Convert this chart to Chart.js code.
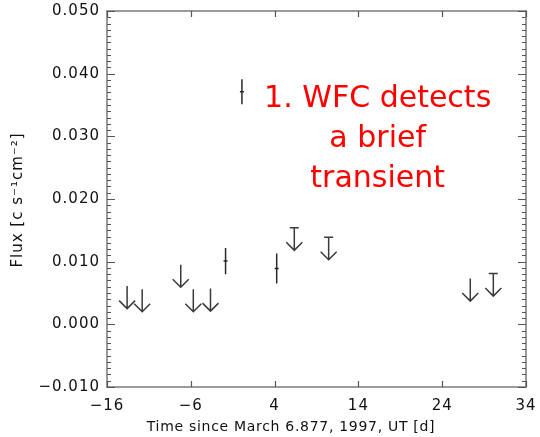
<!DOCTYPE html>
<html>
<head>
<meta charset="utf-8">
<script src="https://cdn.jsdelivr.net/npm/chart.js@4/dist/chart.umd.min.js"></script>
<style>
  html, body { margin: 0; padding: 0; background: #ffffff; }
  #wrap { width: 540px; height: 437px; position: relative; }
</style>
</head>
<body>
<div id="wrap"><canvas id="c" width="540" height="437"></canvas></div>
<script>
// ---- data ----
const xTickValues = [-16, -6, 4, 14, 24, 34];
const yTickValues = [-0.010, 0.000, 0.010, 0.020, 0.030, 0.040, 0.050];

// upper limits (top of the arrow), time [d] and flux
const limitTimes = [-13.6, -11.8, -7.2, -5.7, -3.65, 6.35, 10.45, 27.35, 30.1];
const limitFlux  = [0.0061, 0.0056, 0.0095, 0.0056, 0.0057, 0.0154, 0.0139, 0.0073, 0.0081];
const limitCapped = [false, false, false, false, false, true, true, false, true];

// detections with 1-sigma errors
const detTimes = [-1.85, 0.1, 4.25];
const detFlux  = [0.0101, 0.0371, 0.0089];
const detErr   = [0.0021, 0.0020, 0.0024];

const noteLines = ["1. WFC detects", "a brief", "transient"];
const noteAt = { x: 16.3, y: 0.0347 };

const xTitle = "Time since March 6.877, 1997, UT [d]";
const yTitle = "Flux [c s\u207B\u00B9cm\u207B\u00B2]";

const fmtMinus = s => s.replace('-', '\u2212');

const spacingPlugin = {
  id: 'spacing',
  beforeUpdate(chart) { chart.ctx.letterSpacing = '1px'; },
  beforeDraw(chart) { chart.ctx.letterSpacing = '1px'; }
};

const marksPlugin = {
  id: 'marks',
  afterDatasetsDraw(chart) {
    const ctx = chart.ctx;
    const xs = chart.scales.x, ys = chart.scales.y;
    const a = chart.chartArea;
    ctx.save();
    // frame
    ctx.strokeStyle = '#9a9a9a';
    ctx.lineWidth = 2;
    ctx.strokeRect(a.left, a.top, a.right - a.left, a.bottom - a.top);
    // y ticks, major and minor, both sides
    ctx.strokeStyle = '#555';
    ctx.lineWidth = 1.2;
    const yMin = yTickValues[0], yMax = yTickValues[yTickValues.length - 1];
    for (let k = 0; k <= Math.round((yMax - yMin) / 0.001); k++) {
      const v = yMin + k * 0.001;
      const py = Math.round(ys.getPixelForValue(v)) + 0.5;
      const major = (k % 10 === 0);
      const len = major ? 8 : 4;
      ctx.beginPath();
      ctx.moveTo(a.left, py); ctx.lineTo(a.left + len, py);
      ctx.moveTo(a.right, py); ctx.lineTo(a.right - len, py);
      ctx.stroke();
    }
    // x ticks, major only, bottom and top
    xTickValues.forEach(v => {
      const px = Math.round(xs.getPixelForValue(v)) + 0.5;
      ctx.beginPath();
      ctx.moveTo(px, a.bottom); ctx.lineTo(px, a.bottom - 6);
      ctx.moveTo(px, a.top); ctx.lineTo(px, a.top + 6);
      ctx.stroke();
    });

    // upper-limit arrows
    ctx.strokeStyle = '#3a3a3a';
    ctx.lineWidth = 1.5;
    const limMeta = chart.getDatasetMeta(0);
    limMeta.data.forEach((el, i) => {
      const x = el.x, y = el.y;
      const tip = y + 22.5;
      ctx.beginPath();
      ctx.moveTo(x, y); ctx.lineTo(x, tip);
      ctx.moveTo(x - 8, tip - 8); ctx.lineTo(x, tip); ctx.lineTo(x + 8, tip - 8);
      if (limitCapped[i]) { ctx.moveTo(x - 4.5, y); ctx.lineTo(x + 4.5, y); }
      ctx.stroke();
    });

    // detections with error bars
    const detMeta = chart.getDatasetMeta(1);
    ctx.strokeStyle = '#2a2a2a';
    detMeta.data.forEach((el, i) => {
      const x = el.x;
      const y1 = ys.getPixelForValue(detFlux[i] + detErr[i]);
      const y2 = ys.getPixelForValue(detFlux[i] - detErr[i]);
      ctx.beginPath();
      ctx.moveTo(x, y1); ctx.lineTo(x, y2);
      ctx.moveTo(x - 2, el.y); ctx.lineTo(x + 2, el.y);
      ctx.stroke();
    });

    // axis titles
    ctx.fillStyle = '#111';
    ctx.letterSpacing = '0.7px';
    ctx.font = '14px "DejaVu Sans"';
    ctx.textAlign = 'center';
    ctx.textBaseline = 'alphabetic';
    ctx.fillText(xTitle, 291, 431);
    ctx.save();
    ctx.translate(22, 200);
    ctx.rotate(-Math.PI / 2);
    ctx.letterSpacing = '1px';
    ctx.font = '15px "DejaVu Sans"';
    ctx.fillText(yTitle, 0, 0);
    ctx.restore();

    // red annotation
    ctx.letterSpacing = '0px';
    ctx.fillStyle = '#ff0000';
    ctx.font = '30px "DejaVu Sans"';
    ctx.textAlign = 'center';
    const nx = xs.getPixelForValue(noteAt.x), ny = ys.getPixelForValue(noteAt.y);
    noteLines.forEach((t, i) => ctx.fillText(t, nx, ny + i * 40));
    ctx.restore();
  }
};

const tickFont = { family: '"DejaVu Sans"', size: 15 };

new Chart(document.getElementById('c'), {
  type: 'scatter',
  data: {
    datasets: [
      { label: 'upper limits', data: limitTimes.map((t, i) => ({ x: t, y: limitFlux[i] })), pointRadius: 0 },
      { label: 'detections', data: detTimes.map((t, i) => ({ x: t, y: detFlux[i] })), pointRadius: 0 }
    ]
  },
  options: {
    responsive: false,
    animation: false,
    events: [],
    layout: { padding: { left: 0, right: 14, top: 11, bottom: 0 } },
    plugins: { legend: { display: false }, tooltip: { enabled: false } },
    scales: {
      x: {
        type: 'linear',
        min: xTickValues[0], max: xTickValues[xTickValues.length - 1],
        afterBuildTicks: s => { s.ticks = xTickValues.map(v => ({ value: v })); },
        afterFit: s => { s.height = 50; s.paddingLeft = 0; s.paddingRight = 0; },
        grid: { display: false, drawTicks: false },
        border: { display: false },
        ticks: { color: '#111', font: tickFont, padding: 10, maxRotation: 0, autoSkip: false,
                 callback: v => fmtMinus(String(v)) },
        title: { display: false }
      },
      y: {
        type: 'linear',
        min: yTickValues[0], max: yTickValues[yTickValues.length - 1],
        afterBuildTicks: s => { s.ticks = yTickValues.map(v => ({ value: v })); },
        afterFit: s => { s.width = 107; s.paddingTop = 0; s.paddingBottom = 0; },
        grid: { display: false, drawTicks: false },
        border: { display: false },
        ticks: { color: '#111', font: tickFont, padding: 7, autoSkip: false,
                 callback: v => fmtMinus(v.toFixed(3)) },
        title: { display: false }
      }
    }
  },
  plugins: [spacingPlugin, marksPlugin]
});
</script>
</body>
</html>
